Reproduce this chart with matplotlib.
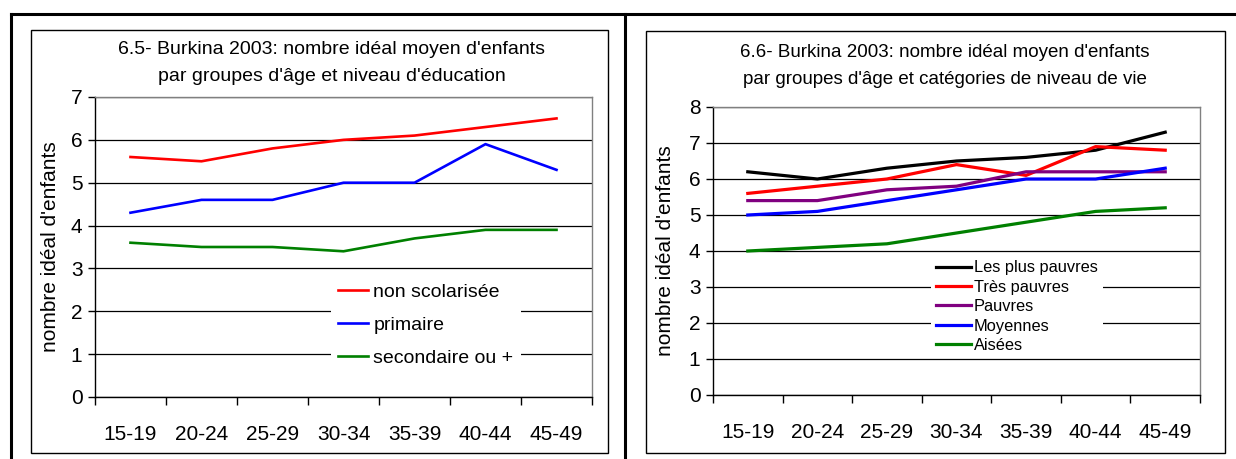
import matplotlib
matplotlib.use("Agg")
import matplotlib.pyplot as plt
from matplotlib.lines import Line2D
from matplotlib.patches import Rectangle

plt.rcParams['font.family'] = ['Liberation Sans', 'DejaVu Sans']

age_groups = ["15-19", "20-24", "25-29", "30-34", "35-39", "40-44", "45-49"]

# Chart 6.5 - education level
edu_labels = ["non scolarisée", "primaire", "secondaire ou +"]
edu_colors = ["#ff0000", "#0000ff", "#008000"]
non_scolarisee = [5.6, 5.5, 5.8, 6.0, 6.1, 6.3, 6.5]
primaire = [4.3, 4.6, 4.6, 5.0, 5.0, 5.9, 5.3]
secondaire = [3.6, 3.5, 3.5, 3.4, 3.7, 3.9, 3.9]

# Chart 6.6 - standard of living
niv_labels = ["Les plus pauvres", "Très pauvres", "Pauvres", "Moyennes", "Aisées"]
niv_colors = ["#000000", "#ff0000", "#800080", "#0000ff", "#008000"]
plus_pauvres = [6.2, 6.0, 6.3, 6.5, 6.6, 6.8, 7.3]
tres_pauvres = [5.6, 5.8, 6.0, 6.4, 6.1, 6.9, 6.8]
pauvres = [5.4, 5.4, 5.7, 5.8, 6.2, 6.2, 6.2]
moyennes = [5.0, 5.1, 5.4, 5.7, 6.0, 6.0, 6.3]
aisees = [4.0, 4.1, 4.2, 4.5, 4.8, 5.1, 5.2]

title_left = "6.5- Burkina 2003: nombre idéal moyen d'enfants\npar groupes d'âge et niveau d'éducation"
title_right = "6.6- Burkina 2003: nombre idéal moyen d'enfants\npar groupes d'âge et catégories de niveau de vie"
ylabel = "nombre idéal d'enfants"

W, H = 1236, 459
fig = plt.figure(figsize=(W / 100, H / 100), dpi=100)

def px_axes(x0, x1, ytop, ybot):
    return fig.add_axes([x0 / W, 1 - ybot / H, (x1 - x0) / W, (ybot - ytop) / H])

# outer table lines
for (xa, ya, xb, yb) in [(11, 14, W, 14), (11, 14, 11, H), (625, 14, 625, H)]:
    fig.add_artist(Line2D([xa / W, xb / W], [1 - ya / H, 1 - yb / H], color="black", lw=2.2,
                          transform=fig.transFigure))
# chart boxes
for (x0, y0, x1, y1) in [(31, 30, 608, 453), (646, 31, 1225, 453)]:
    fig.add_artist(Rectangle((x0 / W, 1 - y1 / H), (x1 - x0) / W, (y1 - y0) / H, fill=False,
                             edgecolor="black", lw=1.0, transform=fig.transFigure))

def style_axes(ax, ymax, fs):
    n = len(age_groups)
    ax.set_xlim(0, n)
    ax.set_ylim(0, ymax)
    ax.set_yticks(range(0, ymax + 1))
    ax.set_xticks(range(0, n + 1), minor=False)
    ax.set_xticklabels([])
    ax.set_xticks([i + 0.5 for i in range(n)], minor=True)
    ax.set_xticklabels(age_groups, minor=True)
    ax.tick_params(axis='x', which='minor', length=0, pad=20, labelsize=fs)
    ax.tick_params(axis='x', which='major', length=6, width=1, direction='out', color='black')
    ax.tick_params(axis='y', length=5, width=1, direction='out', labelsize=fs, pad=4)
    ax.grid(axis='y', color='black', lw=0.9)
    ax.set_axisbelow(True)
    for s in ['top', 'right']:
        ax.spines[s].set_color('#808080')
        ax.spines[s].set_linewidth(1.0)
    ax.spines['left'].set_color('black')
    ax.spines['bottom'].set_color('black')
    ax.spines['left'].set_linewidth(1.0)
    ax.spines['bottom'].set_linewidth(1.0)
    ax.set_ylabel(ylabel, fontsize=fs)

xs = [i + 0.5 for i in range(len(age_groups))]

# left chart
axL = px_axes(95, 592, 97, 397)
for vals, lab, col in zip([non_scolarisee, primaire, secondaire], edu_labels, edu_colors):
    axL.plot(xs, vals, color=col, lw=1.9, label=lab)
style_axes(axL, 7, 15)
axL.yaxis.labelpad = 8
legL = axL.legend(loc='upper left', bbox_to_anchor=(0.474, 0.405), frameon=True, fancybox=False,
                  edgecolor='none', facecolor='white', framealpha=1, fontsize=14,
                  handlelength=1.55, handletextpad=0.25, labelspacing=0.8, borderaxespad=0,
                  borderpad=0.4)
fig.text(332 / W, 1 - 63 / H, title_left, ha='center', va='center', fontsize=14, linespacing=1.75)

# right chart
axR = px_axes(713, 1200, 107, 395)
for vals, lab, col in zip([plus_pauvres, tres_pauvres, pauvres, moyennes, aisees], niv_labels, niv_colors):
    axR.plot(xs, vals, color=col, lw=2.3, label=lab)
style_axes(axR, 8, 15)
axR.yaxis.labelpad = 10
legR = axR.legend(loc='upper left', bbox_to_anchor=(0.448, 0.485), frameon=True, fancybox=False,
                  edgecolor='none', facecolor='white', framealpha=1, fontsize=11.8,
                  handlelength=2.1, handletextpad=0.2, labelspacing=0.27, borderaxespad=0,
                  borderpad=0.3)
fig.text(945 / W, 1 - 66 / H, title_right, ha='center', va='center', fontsize=13.5, linespacing=1.8)

fig.savefig("out.png", dpi=100)
